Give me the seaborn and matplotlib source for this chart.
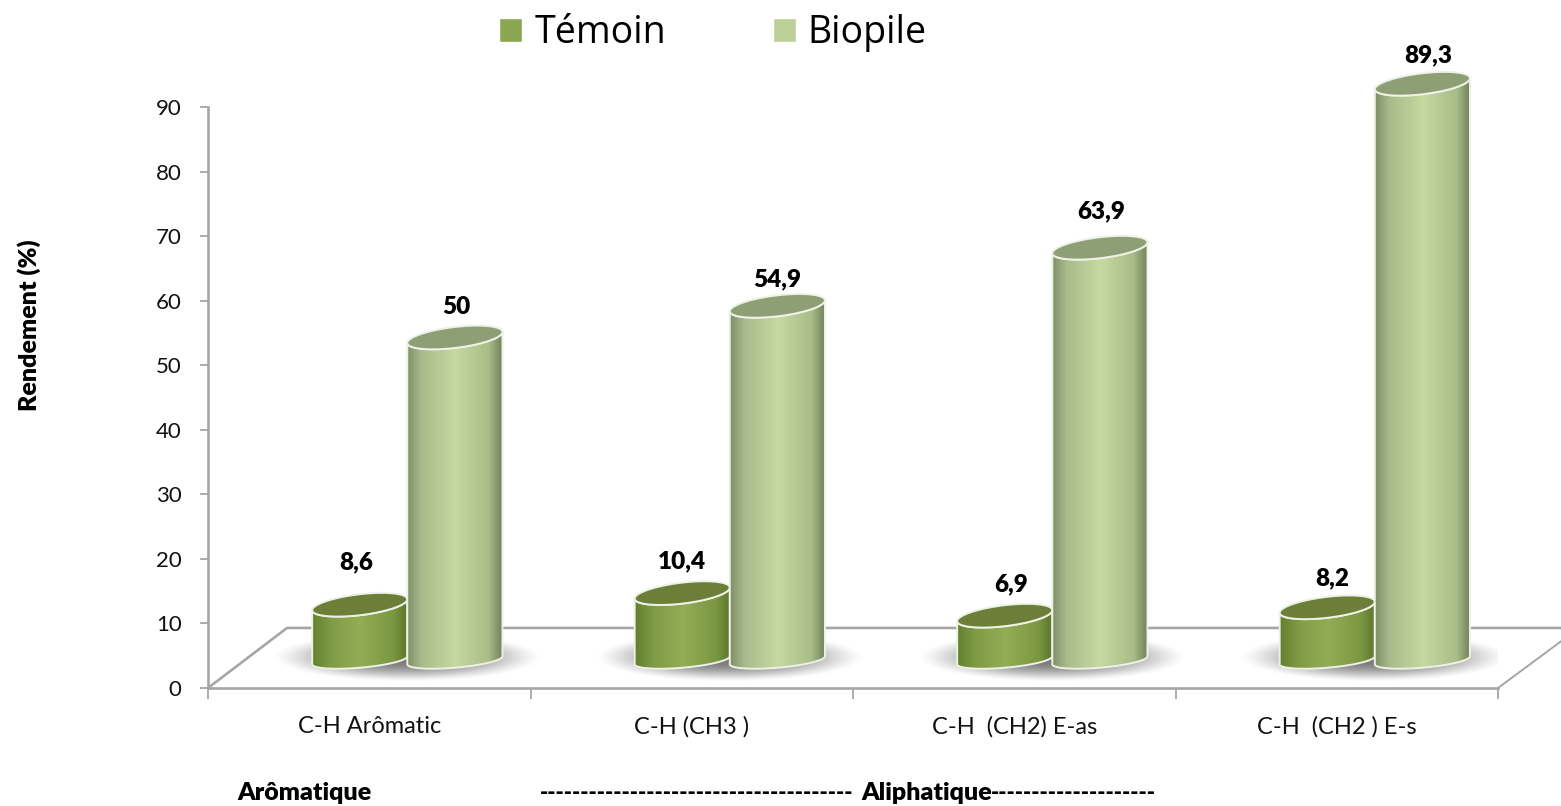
import numpy as np
import pandas as pd
import matplotlib.pyplot as plt
import seaborn as sns
from matplotlib.colors import LinearSegmentedColormap
from matplotlib.patches import Polygon

# Donnees
categories = ["C-H Arômatic", "C-H (CH3 )", "C-H  (CH2) E-as", "C-H  (CH2 ) E-s"]
temoin = [8.6, 10.4, 6.9, 8.2]
biopile = [50, 54.9, 63.9, 89.3]
series = ["Témoin", "Biopile"]
yticks = [0, 10, 20, 30, 40, 50, 60, 70, 80, 90]

W, H = 1561, 806
PX_Y = 6.456   # pixels par unite
LIFT = 4.3     # la base des cylindres est posee sur le plancher 3D
SHIFT = 0.118
BAR_W = 0.295
RY = 10.5 / PX_Y
TILT = 5.5 / PX_Y
RY_BASE = 7.5 / PX_Y
TILT_BASE = 4 / PX_Y

df = pd.DataFrame({
    "cat": categories * 2,
    "val": temoin + biopile,
    "serie": [series[0]] * 4 + [series[1]] * 4,
})

sns.set_style("white")
plt.rcParams["font.family"] = ["Lato", "DejaVu Sans"]

fig = plt.figure(figsize=(W / 100, H / 100), dpi=100)
ax = fig.add_axes([208 / W, (H - 688) / H, 1290 / W, 581 / H])

sns.barplot(data=df, x="cat", y="val", hue="serie", palette=["#8aa650", "#bccf96"],
            width=BAR_W * 2, gap=0, saturation=1, ax=ax, zorder=3)

cmaps = [
    LinearSegmentedColormap.from_list("t", [(0, "#64802f"), (0.2, "#7f9c45"), (0.5, "#93ad55"),
                                            (0.85, "#7a9741"), (1, "#5b742b")]),
    LinearSegmentedColormap.from_list("b", [(0, "#7f8f68"), (0.15, "#a8bb8c"), (0.5, "#c5d9a0"),
                                            (0.85, "#aabd88"), (1, "#6f7f58")]),
]
top_colors = ["#6b7f38", "#8f9f75"]
grad = np.linspace(0, 1, 256).reshape(1, -1)
t_low = np.linspace(np.pi, 2 * np.pi, 60)
t_all = np.linspace(0, 2 * np.pi, 120)


def arc(cx, cy, a, t, ry=RY, tilt=TILT):
    return np.column_stack([cx + a * np.cos(t), cy + ry * np.sin(t) + tilt * np.cos(t)])


# Ombres portees
for i in range(len(categories)):
    yy, xx = np.mgrid[-1:1:120j, -1:1:300j]
    r = np.sqrt(xx ** 2 + yy ** 2)
    rgba = np.zeros((120, 300, 4))
    rgba[..., :3] = 0.4
    rgba[..., 3] = 0.9 * np.clip(1 - r ** 2.4, 0, 1) ** 1.6
    ax.imshow(rgba, extent=[i + SHIFT - 0.42, i + SHIFT + 0.42, 1.0, 8.6], aspect="auto",
              zorder=1.5, interpolation="bilinear")

# Cylindres a partir des barres de seaborn
for s, cont in enumerate(ax.containers):
    for i, bar in enumerate(cont):
        val = bar.get_height()
        bar.set_x(bar.get_x() + SHIFT)
        bar.set_y(LIFT)
        a = bar.get_width() / 2
        cx = bar.get_x() + a
        top = LIFT + val
        z = 3 + 2 * i + s

        body = np.vstack([arc(cx, top, a, t_low),
                          arc(cx, LIFT, a, t_low[::-1], RY_BASE, TILT_BASE)])
        clip = Polygon(body, closed=True, transform=ax.transData, facecolor="none",
                       edgecolor="#eef1e6", lw=1.4, zorder=z + 0.2, clip_on=False)
        ax.add_patch(clip)
        bar.set_zorder(z)
        bar.set_clip_box(fig.bbox)
        bar.set_clip_path(clip)
        im = ax.imshow(grad, extent=[cx - a, cx + a, LIFT - RY - TILT, top + TILT], aspect="auto",
                       cmap=cmaps[s], zorder=z + 0.1)
        im.set_clip_box(fig.bbox)
        im.set_clip_path(clip)
        ax.add_patch(Polygon(arc(cx, top, a, t_all), closed=True, facecolor=top_colors[s],
                             edgecolor="#eef1e6", lw=1.4, zorder=z + 0.3, clip_on=False))

# Plancher 3D
floor = "#a6a6a6"
ax.plot([-0.5, -0.255, 3.7], [0, 9.3, 9.3], color=floor, lw=1.9, zorder=1, clip_on=False)
ax.plot([3.5, 3.7], [0, 7.4], color=floor, lw=1.4, zorder=1, clip_on=False)

ax.set_xlim(-0.5, 3.5)
ax.set_ylim(0, 90)
ax.set_xlabel("")
ax.set_ylabel("")
sns.despine(ax=ax)
for side in ["left", "bottom"]:
    ax.spines[side].set_color(floor)
    ax.spines[side].set_linewidth(1.9)

ax.set_yticks(yticks)
ax.tick_params(axis="y", left=True, length=6, width=1.3, color=floor, labelsize=16, pad=13,
               labelcolor="#111111")
ax.set_xticks(np.arange(-0.5, 4, 1), labels=[""] * 5)
ax.tick_params(axis="x", which="major", bottom=True, length=8, width=1.3, color=floor)
ax.set_xticks(range(4), labels=categories, minor=True)
ax.tick_params(axis="x", which="minor", length=0, labelsize=17, pad=20, labelcolor="#111111")

# Valeurs
label_dx = [[-4, 0, 6, 5], [1, 0, 1, 6]]
label_dy = [[42, 32, 31, 29], [30, 27, 36, 28]]
for s, vals in enumerate([temoin, biopile]):
    for i, v in enumerate(vals):
        cx = i + SHIFT + (s - 0.5) * BAR_W
        ax.annotate(str(v).replace(".", ","), (cx, LIFT + v),
                    xytext=(label_dx[s][i] * 0.72, label_dy[s][i] * 0.72),
                    textcoords="offset points", ha="center", va="center", fontsize=17.5,
                    fontweight="heavy", color="black", annotation_clip=False, zorder=30)

# Legende
sns.move_legend(ax, "center", bbox_to_anchor=(713 / W, 1 - 33 / H), bbox_transform=fig.transFigure,
                ncol=2, title=None, frameon=False, handlelength=0.61, handleheight=0.61,
                handletextpad=0.32, columnspacing=2.85, labelcolor="black",
                prop={"family": "Open Sans", "size": 27})

fig.text(29 / W, 1 - 325 / H, "Rendement (%)", rotation=90, ha="center", va="center",
         fontsize=18, fontweight="heavy", color="black")
fig.text(304 / W, 1 - 793 / H, "Arômatique", ha="center", va="center", fontsize=18,
         fontweight="heavy", color="black")
fig.text(853 / W, 1 - 793 / H, "-" * 38, ha="right", va="center", fontsize=16,
         fontweight="heavy", color="black")
fig.text(927 / W, 1 - 793 / H, "Aliphatique", ha="center", va="center", fontsize=18,
         fontweight="heavy", color="black")
fig.text(991 / W, 1 - 793 / H, "-" * 20, ha="left", va="center", fontsize=16,
         fontweight="heavy", color="black")

fig.savefig("out.png", dpi=100)
